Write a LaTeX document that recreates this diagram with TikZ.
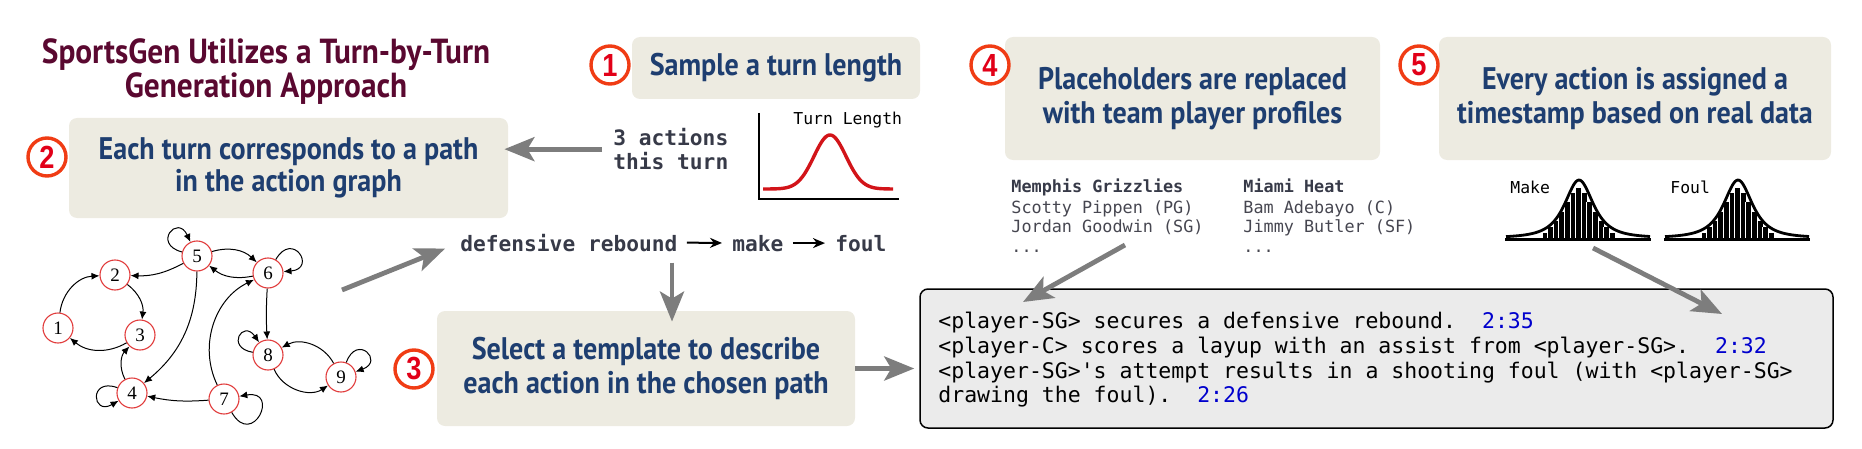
\documentclass[tikz,border=0pt]{standalone}
\usepackage{fontspec}
\usetikzlibrary{arrows.meta,calc}
\newfontfamily\hfont[FakeStretch=0.9]{PT Sans}
\newfontfamily\dmono{DejaVu Sans Mono}
\newfontfamily\numfont[FakeStretch=0.85]{Liberation Sans}
\newfontfamily\gfont{Liberation Serif}
\definecolor{boxbeige}{RGB}{237,235,225}
\definecolor{boxnavy}{RGB}{30,62,112}
\definecolor{titlemaroon}{RGB}{90,8,48}
\definecolor{ringred}{RGB}{240,60,20}
\definecolor{numred}{RGB}{226,0,24}
\definecolor{gred}{RGB}{225,60,60}
\definecolor{arrgray}{RGB}{125,125,125}
\definecolor{dslate}{RGB}{55,58,72}
\definecolor{tbgray}{RGB}{235,235,235}
\definecolor{tsblue}{RGB}{0,0,205}
\definecolor{curvered}{RGB}{210,20,25}
\definecolor{teamgray}{RGB}{70,70,80}
\begin{document}
\begin{tikzpicture}[x=0.5pt,y=-0.5pt,
  pbox/.style={fill=boxbeige, rounded corners=4pt, align=center, inner sep=0pt, text=boxnavy,
    font=\hfont\bfseries\fontsize{15.6}{17}\selectfont},
  numc/.style={circle, draw=ringred, line width=1.7pt, fill=white, minimum size=19pt, inner sep=0pt,
    text=numred, font=\numfont\bfseries\fontsize{16}{16}\selectfont},
  gnode/.style={circle, draw=gred, line width=0.55pt, minimum size=15pt, inner sep=0pt,
    font=\gfont\fontsize{9.5}{9.5}\selectfont},
  gedge/.style={line width=0.5pt, -{Latex[length=4pt,width=3.5pt]}},
  gloop/.style={line width=0.5pt, -{Latex[length=4pt,width=3.5pt]}, looseness=6},
  bigarrow/.style={draw=arrgray, line width=2.4pt, -{Stealth[length=15pt,width=12pt,inset=3.5pt]}},
  patharrow/.style={line width=1pt, -{Stealth[length=6pt,width=5pt]}},
  pathtext/.style={anchor=base west, inner sep=0pt, text=dslate, font=\dmono\bfseries\fontsize{10.6}{12}\selectfont},
  tbtext/.style={anchor=base west, inner sep=0pt, font=\dmono\fontsize{10.75}{12}\selectfont},
  teamhead/.style={anchor=base west, inner sep=0pt, text=dslate, font=\dmono\bfseries\fontsize{8.4}{10}\selectfont},
  teamtext/.style={anchor=base west, inner sep=0pt, text=teamgray, font=\dmono\fontsize{8.4}{10}\selectfont},
  smalllabel/.style={anchor=base west, inner sep=0pt, font=\dmono\fontsize{8.2}{10}\selectfont}
]
\useasboundingbox (0,0) rectangle (1862,449);

% title
\node[font=\hfont\bfseries\fontsize{17.4}{14.4}\selectfont, text=titlemaroon, align=center, inner sep=0pt] (title) at (266,72) {SportsGen Utilizes a Turn-by-Turn\\Generation Approach};

% step boxes
\node[pbox, minimum width=144pt, minimum height=31pt] (b1) at (776,68) {Sample a turn length};
\node[pbox, minimum width=219.5pt, minimum height=50pt, font=\hfont\bfseries\fontsize{15.6}{15.8}\selectfont] (b2) at (288.5,168) {Each turn corresponds to a path\\in the action graph};
\node[pbox, minimum width=209pt, minimum height=57.5pt] (b3) at (646,368.5) {Select a template to describe\\each action in the chosen path};
\node[pbox, minimum width=187.5pt, minimum height=61.5pt] (b4) at (1192.5,98.5) {Placeholders are replaced\\with team player profiles};
\node[pbox, minimum width=196pt, minimum height=61.5pt] (b5) at (1635,98.5) {Every action is assigned a\\timestamp based on real data};

\node[numc] (c1) at (610,65) {1};
\node[numc] (c2) at (47,157) {2};
\node[numc] (c3) at (414,369) {3};
\node[numc] (c4) at (990,65) {4};
\node[numc] (c5) at (1419,65) {5};

% turn length chart
\node[anchor=north west, align=left, inner sep=0pt, text=dslate, font=\dmono\bfseries\fontsize{10.6}{12}\selectfont] (acts) at (613,128) {3 actions\\this turn};
\coordinate (axtop) at (759,113);
\coordinate (axorig) at (759,199);
\coordinate (axright) at (899,199);
\draw[line width=0.75pt] (axtop) -- (axorig) -- (axright);
\node[smalllabel] (tl) at (793,125) {Turn Length};
\draw[curvered, line width=1.7pt] plot[domain=763:893, samples=90, smooth] (\x, {189-54*exp(-((\x-830)^2)/512)});

\draw[bigarrow, shorten <=5.5pt, shorten >=-2pt] (acts.west) -- (acts.west -| b2.east);

% action graph
\node[gnode] (n1) at (58,328) {1};
\node[gnode] (n2) at (115,275) {2};
\node[gnode] (n3) at (140,335) {3};
\node[gnode] (n4) at (132,393) {4};
\node[gnode] (n5) at (197,256) {5};
\node[gnode] (n6) at (268,273) {6};
\node[gnode] (n7) at (224,399) {7};
\node[gnode] (n8) at (268,355) {8};
\node[gnode] (n9) at (341,377) {9};
\draw[gedge] (n1) to[bend left=40] (n2);
\draw[gedge] (n2) to[bend left=30] (n3);
\draw[gedge] (n3) to[bend left=35] (n1);
\draw[gedge] (n4) to[bend left=35] (n3);
\draw[gedge] (n5) to[bend left=15] (n2);
\draw[gedge] (n5) to[bend left=30] (n6);
\draw[gedge] (n6) to[bend left=25] (n5);
\draw[gedge] (n5) to[bend left=25] (n4);
\draw[gedge] (n6) to[bend right=3] (n8);
\draw[gedge] (n7) to[bend left=45] (n6);
\draw[gedge] (n7) to[bend left=8] (n4);
\draw[gedge] (n9) to[bend right=45] (n8);
\draw[gedge] (n8) to[bend right=50] (n9);
\draw[gloop] (n4) to[out=160,in=210] (n4);
\draw[gloop] (n5) to[out=165,in=115] (n5);
\draw[gloop] (n6) to[out=60,in=5] (n6);
\draw[gloop] (n7) to[out=-60,in=10] (n7);
\draw[gloop] (n8) to[out=170,in=125] (n8);
\draw[gloop] (n9) to[out=70,in=20] (n9);

% chosen path
\node[pathtext] (reb) at (460,251) {defensive rebound};
\node[pathtext] (make) at (732,251) {make};
\node[pathtext] (foul) at (835,251) {foul};
\draw[patharrow, shorten <=4.5pt, shorten >=5pt] (reb.east) -- (make.west);
\draw[patharrow, shorten <=4.5pt, shorten >=5pt] (make.east) -- (foul.west);
\coordinate (gtail) at (342,290);
\draw[bigarrow, shorten >=8pt] (gtail) -- (reb.west);
\coordinate (dx) at (672,0);
\draw[bigarrow, shorten <=5.5pt, shorten >=-5.5pt] (reb.south -| dx) -- (b3.north -| dx);

% team profiles
\node[teamhead] (m0) at (1011,192) {Memphis Grizzlies};
\node[teamtext] (m1) at (1011,213) {Scotty Pippen (PG)};
\node[teamtext] (m2) at (1011,232) {Jordan Goodwin (SG)};
\node[teamtext] (m3) at (1011,252) {...};
\node[teamhead] (h0) at (1243,192) {Miami Heat};
\node[teamtext] (h1) at (1243,213) {Bam Adebayo (C)};
\node[teamtext] (h2) at (1243,232) {Jimmy Butler (SF)};
\node[teamtext] (h3) at (1243,252) {...};

% timestamp distributions
\node[smalllabel] (mk) at (1510,193) {Make};
\node[smalllabel] (fl) at (1670,193) {Foul};
\foreach \off in {0,159}{
  \foreach \h [count=\i from 0] in {233,227,221,212,202,193,188,193,202,212,221,227,233}{
    \fill[black] (1542+\off+\i*5.6,239) rectangle (1542+\off+\i*5.6+5.6,\h);
    \draw[white, line width=0.35pt] (1542+\off+\i*5.6,239) -- (1542+\off+\i*5.6,\h);
  }
  \draw[line width=1.4pt] plot[domain=1506:1650, samples=90, smooth] (\x+\off, {238-58*exp(-1.5*ln(1+((\x-1579)/22)^2))});
  \draw[line width=1.6pt] (1505+\off,239.5) -- (1651+\off,239.5);
}

% generated text box
\node[draw=black, line width=0.75pt, fill=tbgray, rounded corners=4pt, minimum width=456.5pt, minimum height=69.5pt, inner sep=0pt] (tb) at (1376.5,358.5) {};
\node[tbtext] (t1) at (938,328) {<player-SG> secures a defensive rebound.~~\textcolor{tsblue}{2:35}};
\node[tbtext] (t2) at (938,353) {<player-C> scores a layup with an assist from <player-SG>.~~\textcolor{tsblue}{2:32}};
\node[tbtext] (t3) at (938,378) {<player-SG>\textquotesingle s attempt results in a shooting foul (with <player-SG>};
\node[tbtext] (t4) at (938,402) {drawing the foul).~~\textcolor{tsblue}{2:26}};

\draw[bigarrow, shorten >=2.5pt] (b3.east) -- (b3.east -| tb.west);
\coordinate (ttail) at (1125,245);
\coordinate (thead) at (1023,302);
\draw[bigarrow] (ttail) -- (thead);
\coordinate (htail) at (1593,248);
\coordinate (hhead) at (1722,314);
\draw[bigarrow] (htail) -- (hhead);
\end{tikzpicture}
\end{document}
